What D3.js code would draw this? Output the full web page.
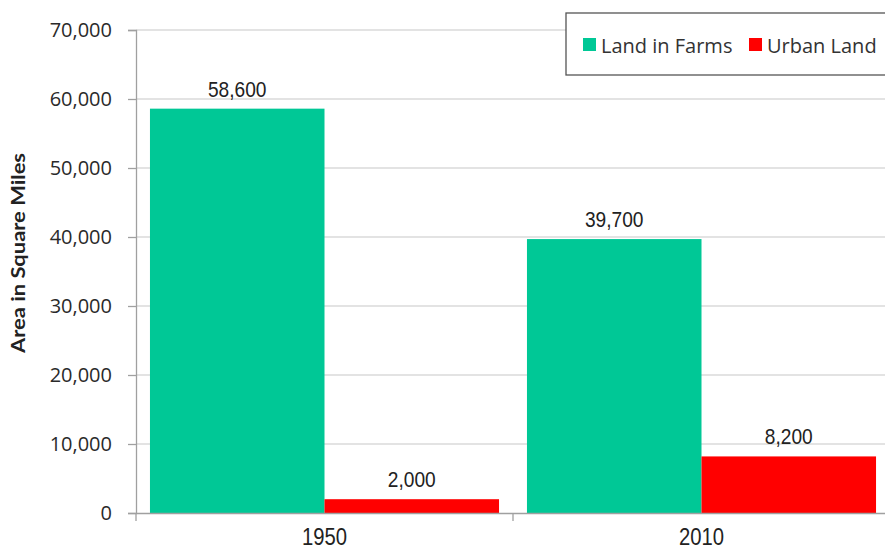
<!DOCTYPE html>
<html><head><meta charset="utf-8">
<script src="https://cdn.jsdelivr.net/npm/d3@7"></script>
<style>body{margin:0;background:#fff}svg{display:block}</style>
</head><body><svg id="c" width="885" height="550"></svg>
<script>
const years = ["1950", "2010"];
const seriesNames = ["Land in Farms", "Urban Land"];
const farms = [58600, 39700];
const urban = [2000, 8200];
const yTicks = [0, 10000, 20000, 30000, 40000, 50000, 60000, 70000];
const colors = ["#00C896", "#FF0000"];

(function () {
const svg = d3.select("#c");
const pl = 136, pr = 890, pt = 30, pb = 513;
const y = d3.scaleLinear().domain([0, 70000]).range([pb, pt]);
const x = d3.scaleBand().domain(years).range([pl, pr]).paddingInner(0).paddingOuter(0);
const inner = d3.scaleBand().domain(seriesNames).range([0, x.bandwidth()]).paddingOuter(0.08).paddingInner(0);
const fmt = d3.format(",");
const narrow = "Liberation Sans, Arial, sans-serif";

// gridlines
svg.append("g").selectAll("line").data(yTicks.filter(d => d > 0)).join("line")
  .attr("x1", pl).attr("x2", 885).attr("y1", d => y(d)).attr("y2", d => y(d))
  .attr("stroke", "#c8c8c8").attr("stroke-width", 1.2);

// y axis
const ya = svg.append("g").attr("transform", `translate(${pl},0)`)
  .call(d3.axisLeft(y).tickValues(yTicks).tickFormat(fmt).tickSize(8).tickPadding(16));
ya.select(".domain").attr("stroke", "#a0a0a0").attr("stroke-width", 1.3);
ya.selectAll(".tick line").attr("stroke", "#a0a0a0").attr("stroke-width", 1.3);
ya.selectAll("text").attr("font-family", "Open Sans, sans-serif").attr("font-size", 20).attr("fill", "#2a2a2a");

// bars
const data = years.map((yr, i) => [{s: seriesNames[0], v: farms[i], c: colors[0], yr}, {s: seriesNames[1], v: urban[i], c: colors[1], yr}]).flat();
svg.append("g").selectAll("rect").data(data).join("rect")
  .attr("x", d => x(d.yr) + inner(d.s)).attr("width", inner.bandwidth())
  .attr("y", d => y(d.v)).attr("height", d => pb - y(d.v)).attr("fill", d => d.c);

// x axis
const xa = svg.append("g").attr("transform", `translate(0,${pb})`)
  .call(d3.axisBottom(x).tickSize(0).tickFormat(""));
xa.select(".domain").attr("stroke", "#a0a0a0").attr("stroke-width", 1.3);
xa.selectAll(".sep").data([pl, x("2010"), pr]).join("line").attr("class", "sep")
  .attr("x1", d => d).attr("x2", d => d).attr("y1", 0).attr("y2", 8)
  .attr("stroke", "#a0a0a0").attr("stroke-width", 1.3);
svg.append("g").selectAll("g").data(years).join("g")
  .attr("transform", d => `translate(${x(d) + x.bandwidth() / 2},${pb + 32}) scale(0.88,1)`)
  .append("text").attr("text-anchor", "middle").attr("font-family", narrow)
  .attr("font-size", 23).attr("fill", "#222").text(d => d);

// value labels
svg.append("g").selectAll("g").data(data).join("g")
  .attr("transform", d => `translate(${x(d.yr) + inner(d.s) + inner.bandwidth() / 2},${y(d.v) - 12}) scale(0.87,1)`)
  .append("text").attr("text-anchor", "middle")
  .attr("font-family", narrow).attr("font-size", 22).attr("fill", "#222")
  .text(d => fmt(d.v));

// y title
svg.append("text").attr("transform", "translate(25,253) rotate(-90)").attr("text-anchor", "middle")
  .attr("font-family", "Lato, Open Sans, sans-serif").attr("font-size", 18).attr("font-weight", "bold").attr("fill", "#222")
  .attr("textLength", 200).attr("lengthAdjust", "spacingAndGlyphs")
  .text("Area in Square Miles");

// legend
const lg = svg.append("g");
lg.append("rect").attr("x", 566).attr("y", 13).attr("width", 330).attr("height", 62)
  .attr("fill", "#fff").attr("stroke", "#555").attr("stroke-width", 1.3);
const lx = [583, 749];
seriesNames.forEach((n, i) => {
  lg.append("rect").attr("x", lx[i]).attr("y", 38).attr("width", 13).attr("height", 13).attr("fill", colors[i]);
  lg.append("text").attr("x", lx[i] + 18).attr("y", 52.5).attr("font-family", "Open Sans, sans-serif")
    .attr("font-size", 20).attr("fill", "#333").text(n);
});
})();
</script></body></html>
